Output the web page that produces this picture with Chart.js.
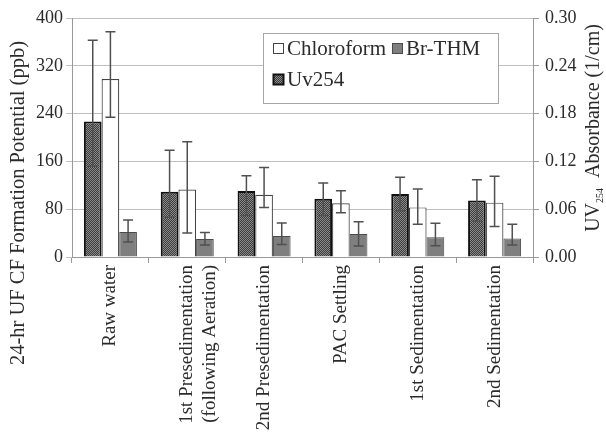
<!DOCTYPE html>
<html>
<head>
<meta charset="utf-8">
<script src="https://cdn.jsdelivr.net/npm/chart.js@4"></script>
<style>
    html, body { margin: 0; padding: 0; background: #fff; }
    #wrap { width: 606px; height: 435px; }
    .fontwarm { font-family: 'Liberation Serif'; position: absolute; left: -999px; top: 0; }
</style>
</head>
<body>
<span class="fontwarm">Chloroform 0.30</span>
<div id="wrap"><canvas id="chart" width="606" height="435"></canvas></div>
<script>
const categories = [
    'Raw water',
    ['1st Presedimentation', '(following Aeration)'],
    '2nd Presedimentation',
    'PAC Settling',
    '1st Sedimentation',
    '2nd Sedimentation'
];

// UV254 absorbance (1/cm), right axis
const uv254 = [0.170, 0.082, 0.083, 0.073, 0.079, 0.071];
const uv254High = [0.272, 0.134, 0.102, 0.093, 0.100, 0.097];
const uv254Low = [0.114, 0.050, 0.052, 0.052, 0.058, 0.045];

// chloroform formation potential (ppb), left axis
const chloroform = [298, 113, 104, 90, 83, 91];
const chloroformHigh = [377, 193, 150, 111, 114, 135];
const chloroformLow = [234, 40, 83, 74, 55, 51];

// brominated THM (ppb), left axis
const brThm = [42, 30, 35, 38.5, 33, 31];
const brThmHigh = [62, 41, 57, 59, 56.5, 55];
const brThmLow = [25, 20, 21, 18.5, 19, 20];

const leftTicks = [0, 80, 160, 240, 320, 400];
const rightTicks = [0, 0.06, 0.12, 0.18, 0.24, 0.30];

const serif = '"Liberation Serif", "Times New Roman", serif';
const textColor = '#2b2b2b';

function makeDotPattern() {
    const tile = document.createElement('canvas');
    tile.width = 2;
    tile.height = 2;
    const tctx = tile.getContext('2d');
    tctx.fillStyle = '#3c3c3c';
    tctx.fillRect(0, 0, 2, 2);
    tctx.fillStyle = '#8a8a8a';
    tctx.fillRect(0, 0, 1, 1);
    tctx.fillRect(1, 1, 1, 1);
    return document.getElementById('chart').getContext('2d').createPattern(tile, 'repeat');
}

const errorBars = {
    id: 'errorBars',
    afterDatasetsDraw(chart) {
        const ctx = chart.ctx;
        ctx.save();
        ctx.strokeStyle = '#505050';
        ctx.lineWidth = 1.5;
        chart.data.datasets.forEach((ds, i) => {
            const meta = chart.getDatasetMeta(i);
            const scale = chart.scales[ds.yAxisID];
            meta.data.forEach((bar, j) => {
                const yHi = scale.getPixelForValue(ds.errHigh[j]);
                const yLo = scale.getPixelForValue(ds.errLow[j]);
                ctx.beginPath();
                ctx.moveTo(bar.x, yHi);
                ctx.lineTo(bar.x, yLo);
                ctx.moveTo(bar.x - 5, yHi);
                ctx.lineTo(bar.x + 5, yHi);
                ctx.moveTo(bar.x - 5, yLo);
                ctx.lineTo(bar.x + 5, yLo);
                ctx.stroke();
            });
        });
        ctx.restore();
    }
};

const axisTitles = {
    id: 'axisTitles',
    afterDraw(chart) {
        const ctx = chart.ctx;
        ctx.save();
        ctx.fillStyle = textColor;
        ctx.textBaseline = 'middle';

        // left title
        ctx.save();
        ctx.translate(19, 203);
        ctx.rotate(-Math.PI / 2);
        ctx.textAlign = 'center';
        ctx.font = '20.5px ' + serif;
        ctx.fillText('24-hr UF CF Formation Potential (ppb)', 0, 0);
        ctx.restore();

        // right title with subscript
        ctx.save();
        ctx.translate(594, 128);
        ctx.rotate(-Math.PI / 2);
        ctx.textAlign = 'left';
        const bigFont = '20px ' + serif;
        const smallFont = '10px ' + serif;
        const parts = [
            { text: 'UV', font: bigFont, dy: 0 },
            { text: '254', font: smallFont, dy: 6 },
            { text: '  Absorbance (1/cm)', font: bigFont, dy: 0 }
        ];
        let total = 0;
        parts.forEach((p) => {
            ctx.font = p.font;
            total += ctx.measureText(p.text).width;
        });
        let x = -total / 2;
        parts.forEach((p) => {
            ctx.font = p.font;
            ctx.fillText(p.text, x, p.dy);
            x += ctx.measureText(p.text).width;
        });
        ctx.restore();

        ctx.restore();
    }
};

const boxLegend = {
    id: 'boxLegend',
    afterDraw(chart) {
        const ctx = chart.ctx;
        const items = [
            { label: 'Chloroform', ds: 1, x: 273, y: 48 },
            { label: 'Br-THM', ds: 2, x: 392, y: 48 },
            { label: 'Uv254', ds: 0, x: 273, y: 79 }
        ];
        ctx.save();
        ctx.fillStyle = '#fff';
        ctx.fillRect(263, 33, 235, 70);
        ctx.strokeStyle = '#a6a6a6';
        ctx.lineWidth = 1;
        ctx.strokeRect(263.5, 33.5, 235, 70);

        ctx.font = '21px ' + serif;
        ctx.textBaseline = 'middle';
        ctx.textAlign = 'left';
        items.forEach((item) => {
            const ds = chart.data.datasets[item.ds];
            ctx.fillStyle = ds.backgroundColor;
            ctx.fillRect(item.x, item.y - 5, 11, 11);
            ctx.strokeStyle = ds.borderColor;
            ctx.lineWidth = item.ds === 0 ? 2 : 1;
            ctx.strokeRect(item.x + 0.5, item.y - 4.5, 10, 10);
            ctx.fillStyle = textColor;
            ctx.fillText(item.label, item.x + 14, item.y + 1);
        });
        ctx.restore();
    }
};

function drawChart() {
    new Chart(document.getElementById('chart'), {
        type: 'bar',
        data: {
            labels: categories,
            datasets: [
                {
                    label: 'Uv254',
                    data: uv254,
                    errHigh: uv254High,
                    errLow: uv254Low,
                    yAxisID: 'y1',
                    backgroundColor: makeDotPattern(),
                    borderColor: '#111',
                    borderWidth: 2
                },
                {
                    label: 'Chloroform',
                    data: chloroform,
                    errHigh: chloroformHigh,
                    errLow: chloroformLow,
                    yAxisID: 'y',
                    backgroundColor: '#ffffff',
                    borderColor: '#444',
                    borderWidth: 1.2
                },
                {
                    label: 'Br-THM',
                    data: brThm,
                    errHigh: brThmHigh,
                    errLow: brThmLow,
                    yAxisID: 'y',
                    backgroundColor: '#7f7f7f',
                    borderColor: '#4a4a4a',
                    borderWidth: 1
                }
            ]
        },
        options: {
            responsive: false,
            animation: false,
            layout: { padding: { top: 18, left: 0, right: 0, bottom: 0 } },
            datasets: {
                bar: { categoryPercentage: 0.69, barPercentage: 1.0 }
            },
            plugins: {
                legend: { display: false },
                tooltip: { enabled: false }
            },
            scales: {
                x: {
                    offset: true,
                    grid: { drawOnChartArea: false, offset: true, tickLength: 6, color: '#999' },
                    border: { color: '#999' },
                    ticks: {
                        minRotation: 90,
                        maxRotation: 90,
                        padding: 2,
                        color: textColor,
                        font: { family: serif, size: 19 }
                    },
                    afterFit: (scale) => { scale.height = 178; }
                },
                y: {
                    position: 'left',
                    min: 0,
                    max: 400,
                    afterBuildTicks: (scale) => { scale.ticks = leftTicks.map(v => ({ value: v })); },
                    grid: { color: '#bfbfbf', tickLength: 6 },
                    border: { color: '#999' },
                    ticks: {
                        padding: 3,
                        color: textColor,
                        font: { family: serif, size: 18 }
                    },
                    afterFit: (scale) => { scale.width = 72; }
                },
                y1: {
                    position: 'right',
                    min: 0,
                    max: 0.30,
                    afterBuildTicks: (scale) => { scale.ticks = rightTicks.map(v => ({ value: v })); },
                    grid: { drawOnChartArea: false, color: '#999', tickLength: 6 },
                    border: { color: '#999' },
                    ticks: {
                        padding: 6,
                        color: textColor,
                        font: { family: serif, size: 18 },
                        callback: (v) => Number(v).toFixed(2)
                    },
                    afterFit: (scale) => { scale.width = 73; }
                }
            }
        },
        plugins: [errorBars, axisTitles, boxLegend]
    });
}

document.fonts.load('20px "Liberation Serif"').then(drawChart, drawChart);
</script>
</body>
</html>
